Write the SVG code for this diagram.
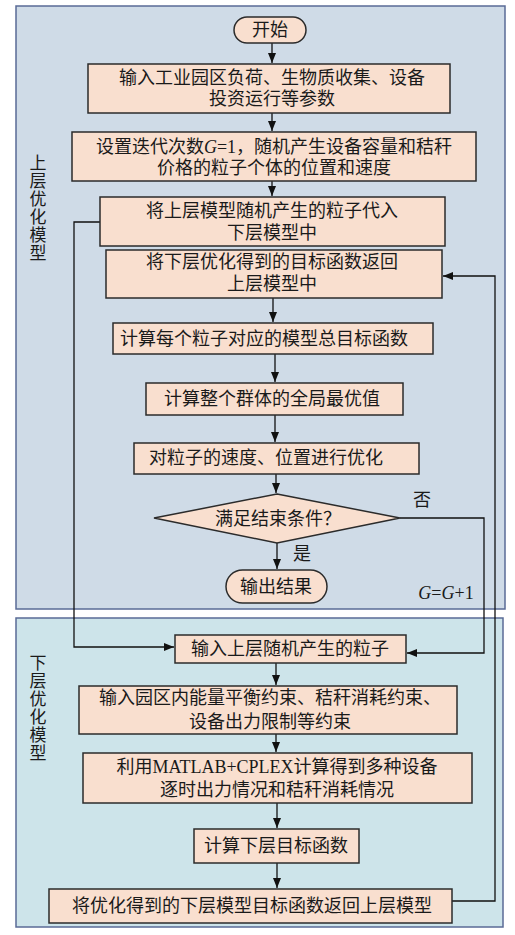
<svg xmlns="http://www.w3.org/2000/svg" width="515" height="935" viewBox="0 0 515 935">
<style>
.panel{stroke:#5a6b96;stroke-width:1.5}
.box{fill:#f9dfcf;stroke:#2b2b2b;stroke-width:1.5}
.t{font-family:"Liberation Serif","Noto Sans CJK SC",serif;font-size:18px;fill:#1a1a1a;text-anchor:middle;dominant-baseline:central}
.lab{font-family:"Liberation Serif","Noto Sans CJK SC",serif;font-size:17px;fill:#1a1a1a;text-anchor:middle;writing-mode:tb;glyph-orientation-vertical:0}
.c{fill:none;stroke:#111;stroke-width:1.3}
</style>
<defs>
<marker id="ah" markerWidth="10" markerHeight="8" refX="10" refY="4" orient="auto" markerUnits="userSpaceOnUse">
<path d="M0,0 L10,4 L0,8 Z" fill="#111"/>
</marker>
</defs>
<rect width="515" height="935" fill="#ffffff"/>
<g id="upper-panel">
<rect class="panel" x="16" y="6" width="489" height="603" fill="#cfdbe7"/>
<text class="lab" x="36" y="208" letter-spacing="1">上层优化模型</text>
</g>
<g id="lower-panel">
<rect class="panel" x="16" y="618" width="487" height="309" fill="#cde4ea"/>
<text class="lab" x="36" y="708" font-size="16.5" letter-spacing="0.9">下层优化模型</text>
</g>
<g id="connectors">
<line class="c" x1="272" y1="43" x2="272" y2="63" marker-end="url(#ah)"/>
<line class="c" x1="272" y1="113" x2="272" y2="131" marker-end="url(#ah)"/>
<line class="c" x1="272" y1="181" x2="272" y2="196" marker-end="url(#ah)"/>
<line class="c" x1="273" y1="298" x2="273" y2="322" marker-end="url(#ah)"/>
<line class="c" x1="275" y1="354" x2="275" y2="382" marker-end="url(#ah)"/>
<line class="c" x1="275" y1="415" x2="275" y2="442" marker-end="url(#ah)"/>
<line class="c" x1="276" y1="474" x2="276" y2="493" marker-end="url(#ah)"/>
<line class="c" x1="277" y1="543" x2="277" y2="569" marker-end="url(#ah)"/>
<polyline class="c" points="100,222 74,222 74,647 174,647" marker-end="url(#ah)"/>
<polyline class="c" points="400,518 484,518 484,653 407,653" marker-end="url(#ah)"/>
<polyline class="c" points="452,901 495,901 495,276 443,276" marker-end="url(#ah)"/>
<line class="c" x1="276" y1="663" x2="276" y2="685" marker-end="url(#ah)"/>
<line class="c" x1="276" y1="734" x2="276" y2="752" marker-end="url(#ah)"/>
<line class="c" x1="277" y1="803" x2="277" y2="828" marker-end="url(#ah)"/>
<line class="c" x1="277" y1="863" x2="277" y2="888" marker-end="url(#ah)"/>
<text class="t" x="422" y="500">否</text>
<text class="t" x="302" y="554">是</text>
<text class="t" x="446" y="593"><tspan font-style="italic">G</tspan>=<tspan font-style="italic">G</tspan>+1</text>
</g>
<g id="start"><rect class="box" x="234" y="17" width="72" height="26" rx="13"/><text class="t" x="270" y="30">开始</text></g>
<g id="n1"><rect class="box" x="88" y="64" width="362" height="49"/><text class="t" x="272" y="78">输入工业园区负荷、生物质收集、设备</text><text class="t" x="272" y="99">投资运行等参数</text></g>
<g id="n2"><rect class="box" x="72" y="132" width="404" height="49"/><text class="t" x="274" y="147">设置迭代次数<tspan font-style="italic">G</tspan>=1，随机产生设备容量和秸秆</text><text class="t" x="274" y="168">价格的粒子个体的位置和速度</text></g>
<g id="n3"><rect class="box" x="100" y="197" width="345" height="49"/><text class="t" x="272" y="211">将上层模型随机产生的粒子代入</text><text class="t" x="272" y="233">下层模型中</text></g>
<g id="n4"><rect class="box" x="106" y="250" width="336" height="48"/><text class="t" x="272" y="262">将下层优化得到的目标函数返回</text><text class="t" x="272" y="284">上层模型中</text></g>
<g id="n5"><rect class="box" x="113" y="323" width="320" height="31"/><text class="t" x="264" y="339">计算每个粒子对应的模型总目标函数</text></g>
<g id="n6"><rect class="box" x="146" y="383" width="257" height="32"/><text class="t" x="272" y="399">计算整个群体的全局最优值</text></g>
<g id="n7"><rect class="box" x="134" y="443" width="285" height="31"/><text class="t" x="266" y="458">对粒子的速度、位置进行优化</text></g>
<g id="decision"><polygon class="box" points="277,494 400,518 277,543 154,518"/><text class="t" x="278" y="519">满足结束条件？</text></g>
<g id="end"><rect class="box" x="226" y="570" width="101" height="33" rx="16.5"/><text class="t" x="276" y="587">输出结果</text></g>
<g id="n8"><rect class="box" x="175" y="635" width="231" height="28"/><text class="t" x="290" y="649">输入上层随机产生的粒子</text></g>
<g id="n9"><rect class="box" x="79" y="686" width="378" height="48"/><text class="t" x="270" y="698">输入园区内能量平衡约束、秸秆消耗约束、</text><text class="t" x="270" y="722">设备出力限制等约束</text></g>
<g id="n10"><rect class="box" x="83" y="753" width="389" height="50"/><text class="t" x="277" y="767">利用MATLAB+CPLEX计算得到多种设备</text><text class="t" x="277" y="790">逐时出力情况和秸秆消耗情况</text></g>
<g id="n11"><rect class="box" x="194" y="829" width="165" height="34"/><text class="t" x="276" y="846">计算下层目标函数</text></g>
<g id="n12"><rect class="box" x="49" y="889" width="403" height="34"/><text class="t" x="252" y="906">将优化得到的下层模型目标函数返回上层模型</text></g>
</svg>
